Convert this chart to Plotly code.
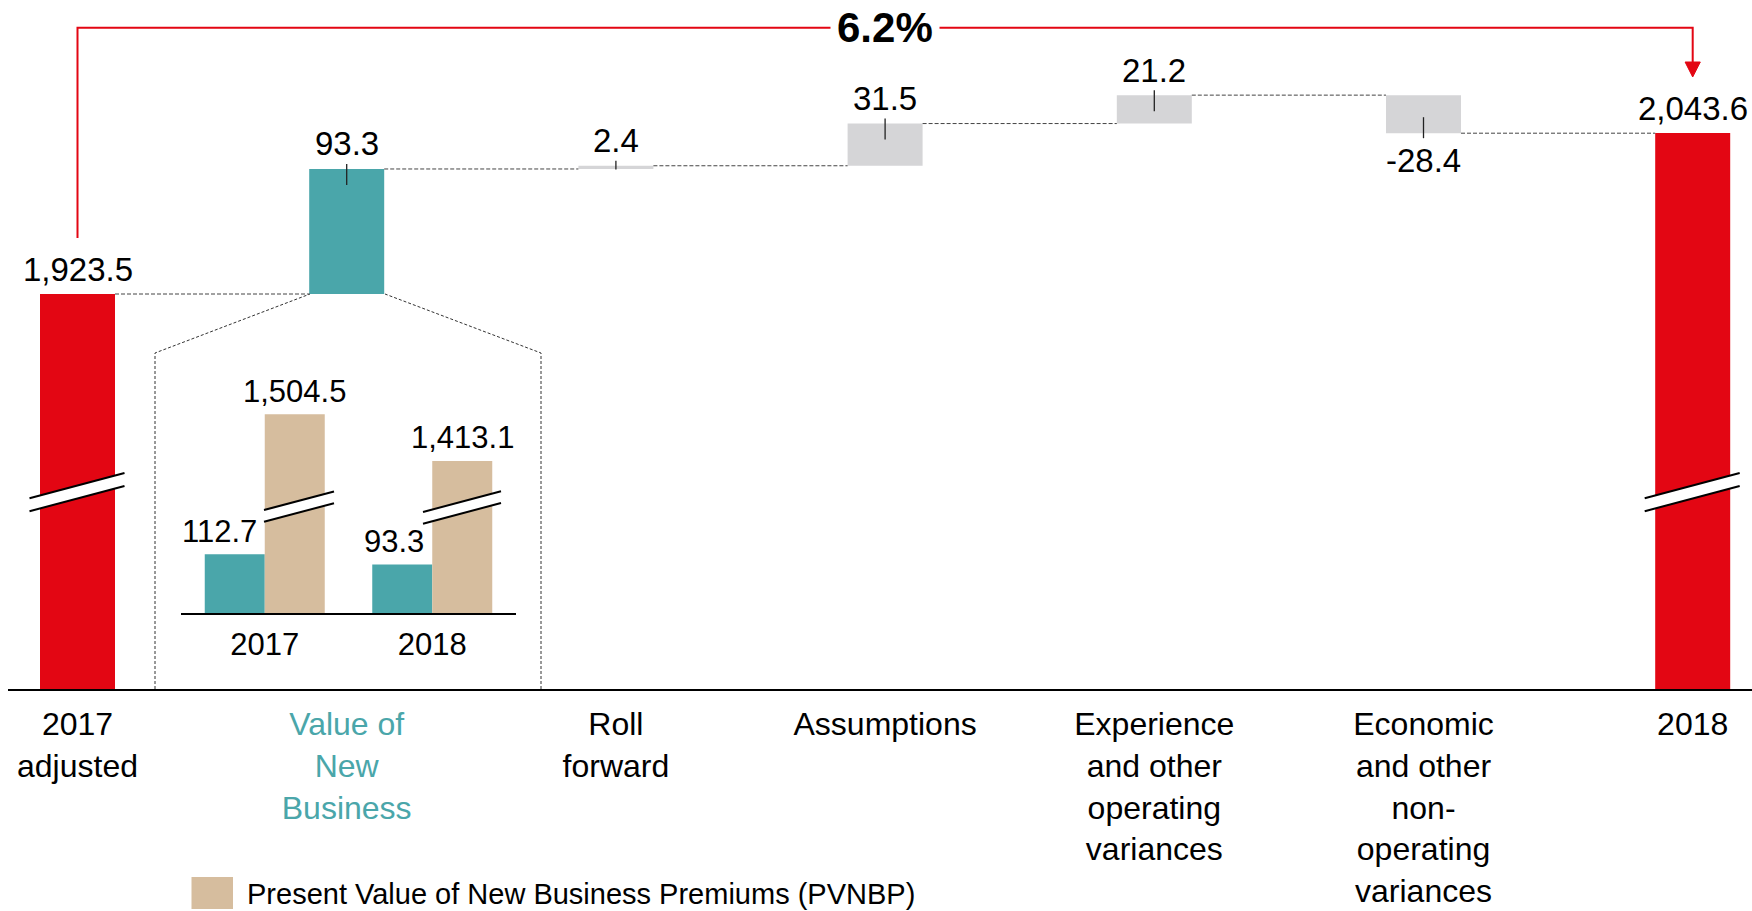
import plotly.graph_objects as go

# ---------------- data ----------------
cat_lines = [["2017", "adjusted"], ["Value of", "New", "Business"], ["Roll", "forward"],
             ["Assumptions"], ["Experience", "and other", "operating", "variances"],
             ["Economic", "and other", "non-", "operating", "variances"], ["2018"]]
start_value = 1923.5
changes = [93.3, 2.4, 31.5, 21.2, -28.4]
end_value = 2043.6
growth_label = "6.2%"

inset_years = ["2017", "2018"]
vnb_values = [112.7, 93.3]
pvnbp_values = [1504.5, 1413.1]
legend_label = "Present Value of New Business Premiums (PVNBP)"

# ---------------- style ----------------
W, H = 1752, 911
RED = "#e30613"
TEAL = "#4aa6aa"
GREY = "#d5d5d7"
TAN = "#d6bd9e"
FONT = "Liberation Sans, Arial, sans-serif"
bar_colors = [RED, TEAL, GREY, GREY, GREY, GREY, RED]
label_colors = ["#000", TEAL, "#000", "#000", "#000", "#000", "#000"]


def px(x):
    return x / W


def py(y):
    return 1 - y / H


# main axis geometry (pixel layout)
x0_px, step_px = 77.5, 269.2
plot_left = 8
axis_px = 689
k_main = 1.34            # px per unit
ref_val, ref_px = 1923.5, 294
y_bottom = ref_val - (axis_px - ref_px) / k_main
y_top = ref_val + ref_px / k_main
bw = 75 / step_px

# ---------------- waterfall computation ----------------
n = len(changes) + 2
xs = list(range(n))
bases, heights, ends = [0], [start_value], [start_value]
run = start_value
for v in changes:
    bases.append(min(run, run + v))
    heights.append(abs(v))
    run += v
    ends.append(run)
bases.append(0)
heights.append(end_value)
ends.append(end_value)
values_all = [start_value] + changes + [end_value]

fig = go.Figure()
fig.add_trace(go.Bar(x=xs, y=heights, base=bases, width=bw, marker=dict(color=bar_colors, line_width=0),
                     xaxis="x", yaxis="y", showlegend=False, hoverinfo="skip"))

# connectors
for i in range(n - 1):
    fig.add_trace(go.Scatter(x=[i + bw / 2, i + 1 - bw / 2], y=[ends[i], ends[i]], mode="lines",
                             line=dict(color="#444", width=1, dash="4px,2px"),
                             xaxis="x", yaxis="y", showlegend=False, hoverinfo="skip"))

# inset bars
bw2 = 60 / 167.5
fig.add_trace(go.Bar(x=[0, 1], y=vnb_values, width=bw2, offset=-bw2, marker=dict(color=TEAL, line_width=0),
                     xaxis="x2", yaxis="y2", showlegend=False, hoverinfo="skip"))
fig.add_trace(go.Bar(x=[0, 1], y=pvnbp_values, width=bw2, offset=0, marker=dict(color=TAN, line_width=0),
                     xaxis="x2", yaxis="y3", showlegend=False, hoverinfo="skip"))

annotations = []
shapes = []

# value labels + tick marks
for i, v in enumerate(values_all):
    is_change = 0 < i < n - 1
    top = ends[i]
    if v >= 0 or not is_change:
        ys = 25
    else:
        ys = -27
    txt = f"{v:,.1f}"
    annotations.append(dict(x=i, y=top, xref="x", yref="y", text=txt, showarrow=False,
                            yshift=ys, yanchor="middle", font=dict(size=33, color="#000", family=FONT)))
    if is_change:
        s = 1 if v > 0 else -1
        inward = min(16, abs(v) * k_main + 0.5)
        shapes.append(dict(type="line", xref="x", yref="y", ysizemode="pixel", yanchor=top,
                           x0=i, x1=i, y0=-inward * s, y1=5 * s,
                           line=dict(color="#222", width=1.3), layer="above"))

# inset labels
for j in range(2):
    annotations.append(dict(x=j, y=vnb_values[j], xref="x2", yref="y2", text=f"{vnb_values[j]:,.1f}",
                            showarrow=False, xanchor="right", xshift=-6, yshift=23, yanchor="middle",
                            font=dict(size=31, color="#000", family=FONT)))
    annotations.append(dict(x=j + bw2 / 2, y=pvnbp_values[j], xref="x2", yref="y3",
                            text=f"{pvnbp_values[j]:,.1f}", showarrow=False, yshift=23, yanchor="middle",
                            font=dict(size=31, color="#000", family=FONT)))

# growth bracket
ly = 27.7
shapes.append(dict(type="path", xref="paper", yref="paper",
                   path=f"M {px(x0_px)},{py(238)} L {px(x0_px)},{py(ly)} L {px(x0_px + 6 * step_px)},{py(ly)} "
                        f"L {px(x0_px + 6 * step_px)},{py(63)}",
                   line=dict(color=RED, width=2)))
ax = x0_px + 6 * step_px
shapes.append(dict(type="path", xref="paper", yref="paper",
                   path=f"M {px(ax - 7.6)},{py(62)} L {px(ax + 7.6)},{py(62)} L {px(ax)},{py(77)} Z",
                   fillcolor=RED, line=dict(color=RED, width=1)))
annotations.append(dict(x=px(x0_px + 3 * step_px), y=py(ly), xref="paper", yref="paper",
                        text=f"<b>{growth_label}</b>", showarrow=False, bgcolor="white", borderpad=6,
                        xanchor="center", yanchor="middle", font=dict(size=42, color="#000", family=FONT)))

# inset dashed frame
tl, tr = 310, 385
shapes.append(dict(type="path", xref="paper", yref="paper",
                   path=f"M {px(155)},{py(689)} L {px(155)},{py(353)} L {px(tl)},{py(294)} "
                        f"M {px(541)},{py(689)} L {px(541)},{py(353)} L {px(tr)},{py(294)}",
                   line=dict(color="#333", width=1, dash="3px,2px")))


def brk(cx, cy, left, right, gap, slope, lw=2):
    def pt(x, off):
        return px(cx + x), py(cy + off + slope * x)
    a = pt(-left, -gap / 2); b = pt(right, -gap / 2); c = pt(right, gap / 2); d = pt(-left, gap / 2)
    shapes.append(dict(type="path", xref="paper", yref="paper",
                       path=f"M {a[0]},{a[1]} L {b[0]},{b[1]} L {c[0]},{c[1]} L {d[0]},{d[1]} Z",
                       fillcolor="white", line=dict(width=0), layer="above"))
    for (p, q) in [(a, b), (d, c)]:
        shapes.append(dict(type="line", xref="paper", yref="paper", x0=p[0], y0=p[1], x1=q[0], y1=q[1],
                           line=dict(color="#000", width=lw), layer="above"))


brk(77.5, 492, 48, 47, 13, -0.265)
brk(x0_px + 6 * step_px, 492, 48, 47, 13, -0.265)
brk(295, 507.7, 31, 39, 11.7, -0.265)
brk(462, 507.5, 39, 39, 11.7, -0.265)

# legend
shapes.append(dict(type="rect", xref="paper", yref="paper", x0=px(191.5), x1=px(233), y0=py(877), y1=py(909),
                   fillcolor=TAN, line=dict(width=0)))
annotations.append(dict(x=px(245), y=py(894), xref="paper", yref="paper", text=legend_label, showarrow=False,
                        xanchor="left", yanchor="middle", font=dict(size=29, color="#000", family=FONT)))

ticktext = []
for lines, col in zip(cat_lines, label_colors):
    ticktext.append("<br>".join(f'<span style="color:{col}">{ln}</span>' for ln in lines))

fig.update_layout(
    width=W, height=H, autosize=False,
    margin=dict(l=0, r=0, t=0, b=0),
    paper_bgcolor="white", plot_bgcolor="rgba(0,0,0,0)",
    font=dict(family=FONT, color="#000"),
    barmode="overlay", showlegend=False,
    xaxis=dict(domain=[px(plot_left), 1], range=[(plot_left - x0_px) / step_px, (W - x0_px) / step_px],
               tickvals=xs, ticktext=ticktext, tickfont=dict(size=32, family=FONT, color="#000"),
               showline=True, linecolor="#000", linewidth=2, ticks="", showgrid=False, zeroline=False,
               automargin=False, fixedrange=True, ticklabelstandoff=6),
    yaxis=dict(domain=[py(axis_px), 1], range=[y_bottom, y_top], visible=False, fixedrange=True),
    xaxis2=dict(domain=[px(181), px(516)], range=[-0.5, 1.5], anchor="y2", tickvals=[0, 1], ticktext=inset_years,
                tickfont=dict(size=31, family=FONT, color="#000"), showline=True, linecolor="#000", linewidth=2,
                ticks="", showgrid=False, zeroline=False, automargin=False, fixedrange=True,
                ticklabelstandoff=2),
    yaxis2=dict(domain=[py(613.3), py(340)], range=[0, (613.3 - 340) / 0.524], visible=False, anchor="x2"),
    yaxis3=dict(overlaying="y2", range=[1115, 1115 + (613.3 - 340) / 0.511], visible=False, anchor="x2"),
    annotations=annotations, shapes=shapes,
)

fig.write_html("out.html", config={"displayModeBar": False},
               post_script="document.body.style.margin='0';")
